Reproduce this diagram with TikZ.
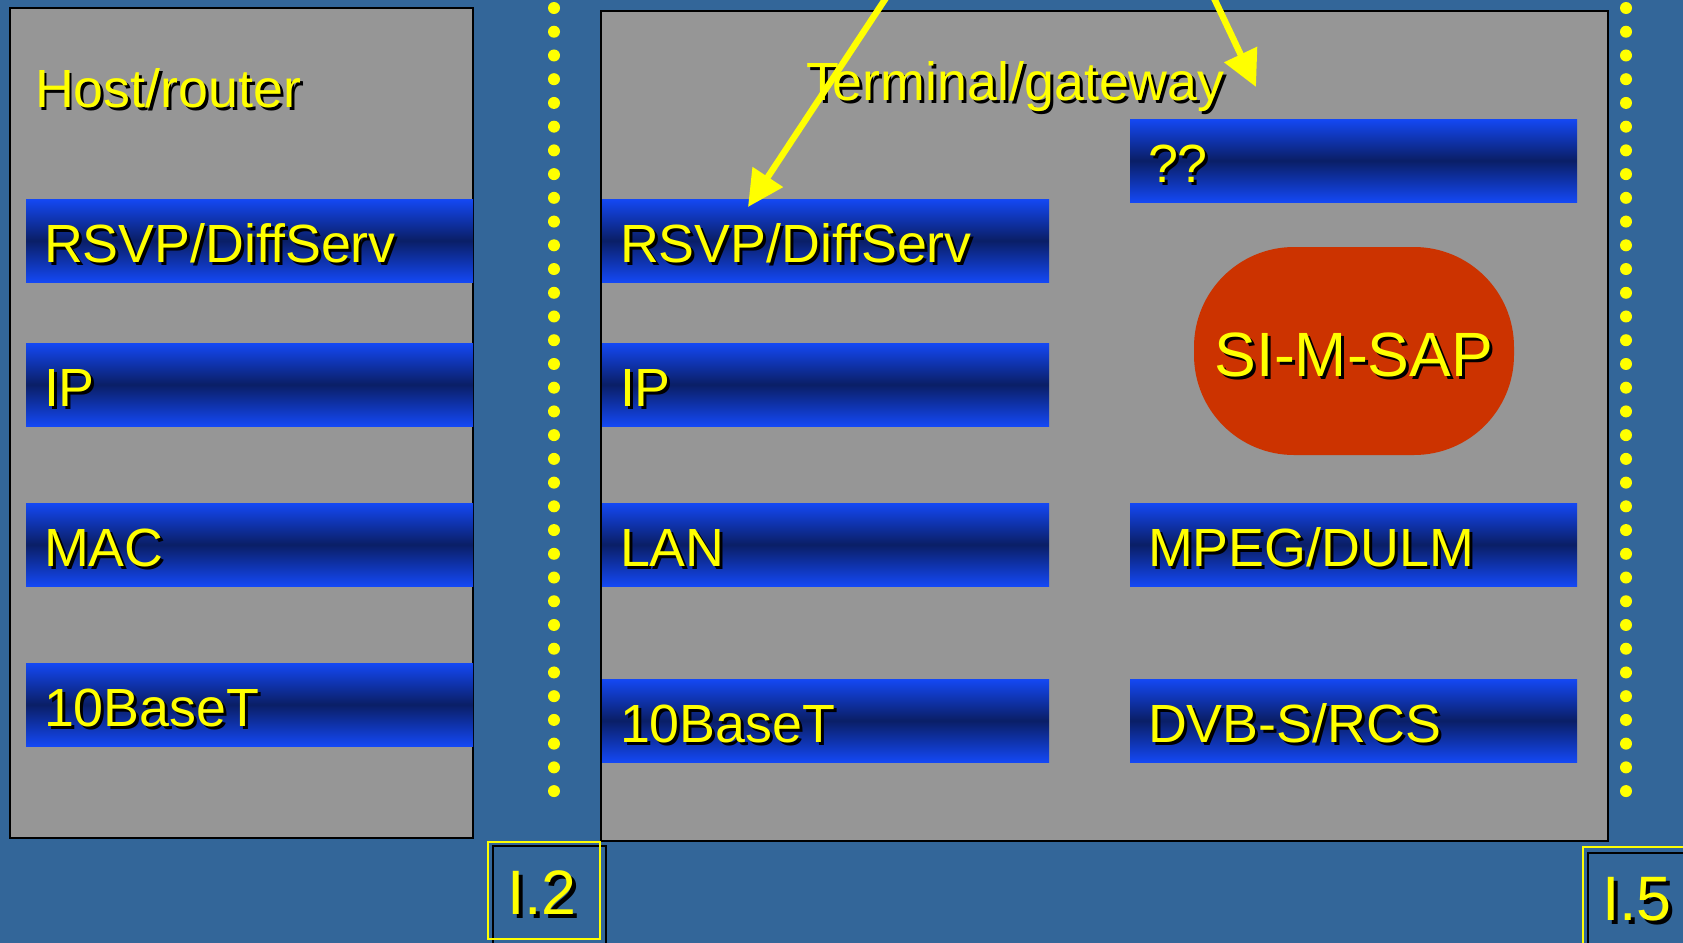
\documentclass[tikz,border=0pt]{standalone}
\usepackage{fontspec}
\setmainfont{Liberation Sans}
\usetikzlibrary{arrows.meta}
\definecolor{bgblue}{HTML}{336699}
\definecolor{panelgray}{HTML}{969696}
\definecolor{barblue}{HTML}{1448F4}
\definecolor{bardark}{HTML}{0A1F66}
\definecolor{simred}{HTML}{CC3300}
\definecolor{ylw}{HTML}{FFFF00}
\tikzset{
 panel/.style={draw=black, line width=1pt, fill=panelgray},
 barbox/.style={inner sep=0pt, outer sep=0pt, minimum width=223.5pt, minimum height=41.5pt,
   top color=barblue, bottom color=barblue, middle color=bardark},
 ytext/.style={text=ylw, inner sep=0pt, outer sep=0pt},
 shtext/.style={text=black, inner sep=0pt, outer sep=0pt},
 yarrow/.style={draw=ylw, line width=3.2pt, -{Triangle[length=18pt,width=17.5pt]}},
}
% name, x, y, size(pt), text, anchor, shadow offset
\newcommand\labtext[7]{%
 \node[shtext, anchor=#6, font=\fontsize{#4pt}{#4pt}\selectfont, xshift=#7, yshift=-#7] at (#2,#3) {#5};
 \node[ytext, anchor=#6, font=\fontsize{#4pt}{#4pt}\selectfont] (#1) at (#2,#3) {#5};
}
% name, x, y, text
\newcommand\layerbar[4]{%
 \node[barbox, anchor=north west] (#1) at (#2,#3) {};
 \labtext{#1t}{#2+18}{#3+63}{26.9}{#4}{base west}{1.5pt}
}
\begin{document}
\begin{tikzpicture}[x=0.5pt, y=-0.5pt]
\useasboundingbox (0,0) rectangle (1683,943);
\clip (0,0) rectangle (1683,943);
\fill[bgblue] (0,0) rectangle (1683,943);

% panels
\draw[panel] (10,8) rectangle (473,838);
\draw[panel] (601,11) rectangle (1608,841);

% dotted separators
\foreach \i in {0,...,33} {
  \fill[ylw] (554,8+\i*23.73) circle (3pt);
  \fill[ylw] (1626,8+\i*23.73) circle (3pt);
}

% left stack
\labtext{host}{35}{107}{26.9}{Host/router}{base west}{1.5pt}
\layerbar{lrsvp}{26}{199}{RSVP/DiffServ}
\layerbar{lip}{26}{343}{IP}
\layerbar{lmac}{26}{503}{MAC}
\layerbar{lten}{26}{663}{10BaseT}

% right stack
\labtext{term}{806}{100}{26.9}{Terminal/gateway}{base west}{1.5pt}
\layerbar{rrsvp}{602}{199}{RSVP/DiffServ}
\layerbar{rip}{602}{343}{IP}
\layerbar{rlan}{602}{503}{LAN}
\layerbar{rten}{602}{679}{10BaseT}
\layerbar{rq}{1130}{119}{??}
\layerbar{rmpeg}{1130}{503}{MPEG/DULM}
\layerbar{rdvb}{1130}{679}{DVB-S/RCS}

\node[fill=simred, rounded corners=50pt, minimum width=160pt, minimum height=104pt, inner sep=0pt] (sim) at (1354,351) {};
\labtext{simt}{1354}{376}{31.3}{SI-M-SAP}{base}{1.5pt}

% arrows
\coordinate (a1s) at (911,-40);
\coordinate (a1e) at (748,207);
\coordinate (a2s) at (1196,-40);
\coordinate (a2e) at (1256,87);
\draw[yarrow] (a1s) -- (a1e);
\draw[yarrow] (a2s) -- (a2e);

% interface labels
\draw[black, line width=0.75pt] (493,846) rectangle (606,980);
\draw[ylw, line width=1pt] (488,842) rectangle (600,939);
\labtext{i2}{507}{914}{31.4}{I.2}{base west}{2pt}

\draw[black, line width=0.75pt] (1588,853) rectangle (1720,980);
\draw[ylw, line width=1pt] (1583,847) rectangle (1720,980);
\labtext{i5}{1602}{920}{31.4}{I.5}{base west}{2pt}
\end{tikzpicture}
\end{document}
